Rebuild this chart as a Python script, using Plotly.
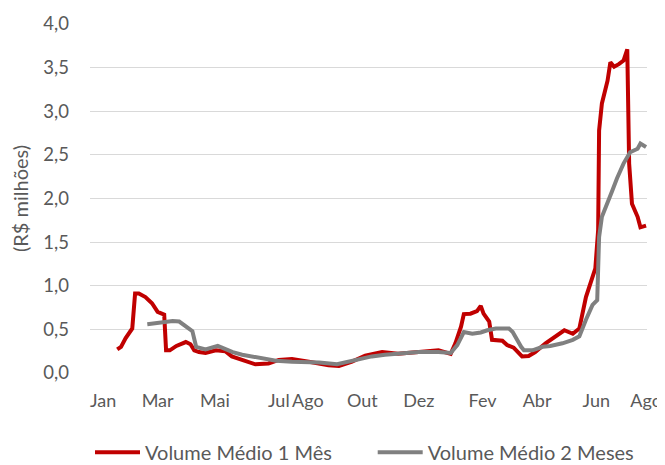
import plotly.graph_objects as go

# Volume Médio 1 Mês (R$ milhões)
red_dates = ["2019-01-16", "2019-01-20", "2019-01-25", "2019-02-01", "2019-02-04", "2019-02-08",
             "2019-02-15", "2019-02-22", "2019-02-28", "2019-03-07", "2019-03-09", "2019-03-13",
             "2019-03-20", "2019-03-30", "2019-04-04", "2019-04-08", "2019-04-13", "2019-04-20",
             "2019-05-01", "2019-05-11", "2019-05-18", "2019-05-29", "2019-06-12", "2019-06-26",
             "2019-07-07", "2019-07-21", "2019-07-28", "2019-08-08", "2019-08-29", "2019-09-09",
             "2019-09-23", "2019-10-07", "2019-10-25", "2019-11-11", "2019-12-03", "2019-12-17",
             "2019-12-24", "2020-01-06", "2020-01-11", "2020-01-17", "2020-01-20", "2020-01-27",
             "2020-02-03", "2020-02-07", "2020-02-10", "2020-02-16", "2020-02-19", "2020-03-01",
             "2020-03-06", "2020-03-13", "2020-03-22", "2020-03-29", "2020-04-05", "2020-04-16",
             "2020-04-27", "2020-05-06", "2020-05-15", "2020-05-22", "2020-05-29", "2020-06-05",
             "2020-06-08", "2020-06-11", "2020-06-12", "2020-06-15", "2020-06-21", "2020-06-24",
             "2020-06-28", "2020-07-03", "2020-07-08", "2020-07-12", "2020-07-14", "2020-07-17",
             "2020-07-23", "2020-07-26", "2020-08-01"]
red_vals = [0.27, 0.30, 0.40, 0.51, 0.91, 0.91,
            0.87, 0.80, 0.70, 0.67, 0.26, 0.26,
            0.31, 0.355, 0.33, 0.26, 0.24, 0.23,
            0.26, 0.25, 0.19, 0.15, 0.10, 0.11,
            0.15, 0.16, 0.15, 0.13, 0.09, 0.08,
            0.13, 0.20, 0.24, 0.22, 0.24, 0.26,
            0.26, 0.22, 0.34, 0.53, 0.675, 0.68,
            0.71, 0.77, 0.68, 0.59, 0.38, 0.37,
            0.32, 0.29, 0.19, 0.195, 0.24, 0.34,
            0.43, 0.49, 0.45, 0.51, 0.87, 1.10,
            1.20, 1.64, 2.78, 3.09, 3.35, 3.56,
            3.51, 3.54, 3.58, 3.71, 2.40, 1.94,
            1.79, 1.67, 1.69]

# Volume Médio 2 Meses (R$ milhões)
gray_dates = ["2019-02-17", "2019-02-27", "2019-03-02", "2019-03-08", "2019-03-16", "2019-03-23",
              "2019-03-30", "2019-04-06", "2019-04-10", "2019-04-20", "2019-05-03", "2019-05-12",
              "2019-05-19", "2019-05-29", "2019-06-16", "2019-07-04", "2019-07-21", "2019-08-19",
              "2019-09-07", "2019-09-23", "2019-10-14", "2019-10-28", "2019-11-15", "2019-12-03",
              "2019-12-24", "2020-01-06", "2020-01-13", "2020-01-20", "2020-01-29", "2020-02-07",
              "2020-02-14", "2020-02-23", "2020-03-08", "2020-03-12", "2020-03-21", "2020-03-24",
              "2020-04-02", "2020-04-13", "2020-04-21", "2020-05-04", "2020-05-15", "2020-05-22",
              "2020-05-29", "2020-06-05", "2020-06-10", "2020-06-12", "2020-06-15", "2020-06-21",
              "2020-06-26", "2020-07-01", "2020-07-08", "2020-07-15", "2020-07-23", "2020-07-26",
              "2020-08-01"]
gray_vals = [0.56, 0.575, 0.58, 0.59, 0.595, 0.59,
             0.53, 0.48, 0.30, 0.27, 0.31, 0.27,
             0.24, 0.21, 0.17, 0.14, 0.13, 0.12,
             0.10, 0.14, 0.19, 0.21, 0.22, 0.24,
             0.24, 0.23, 0.32, 0.47, 0.45, 0.465,
             0.49, 0.51, 0.51, 0.47, 0.30, 0.26,
             0.26, 0.30, 0.31, 0.34, 0.38, 0.42,
             0.61, 0.78, 0.835, 1.56, 1.79, 1.94,
             2.09, 2.23, 2.40, 2.53, 2.57, 2.63,
             2.59]

series_names = ["Volume Médio 1 Mês", "Volume Médio 2 Meses"]

tick_dates = ["2019-01-01", "2019-02-28", "2019-04-30", "2019-07-07", "2019-08-07", "2019-10-04",
              "2019-12-03", "2020-02-09", "2020-04-07", "2020-06-09", "2020-08-01"]
tick_labels = ["Jan", "Mar", "Mai", "Jul", "Ago", "Out", "Dez", "Fev", "Abr", "Jun", "Ago"]

y_ticks = [0, 0.5, 1.0, 1.5, 2.0, 2.5, 3.0, 3.5, 4.0]

FONT = "Lato"
TXT = "#595959"
GAP = "\u00a0" * 7  # spacing between legend entries

fig = go.Figure()
fig.add_trace(go.Scatter(x=red_dates, y=red_vals, mode="lines", name=series_names[0] + GAP,
                         line=dict(color="#C00000", width=4)))
fig.add_trace(go.Scatter(x=gray_dates, y=gray_vals, mode="lines", name=series_names[1],
                         line=dict(color="#808080", width=4)))

# page body has an 8px margin, so the figure is sized 8px smaller than the window
fig.update_layout(
    template="none",
    width=657, height=457,
    margin=dict(l=82, r=18, t=16, b=92, pad=0, autoexpand=False),
    paper_bgcolor="white", plot_bgcolor="white",
    separators=",.",
    font=dict(family=FONT, size=18, color=TXT),
    showlegend=True,
    legend=dict(orientation="h", x=0.0, xanchor="left", y=-0.227, yanchor="middle",
                font=dict(family=FONT, size=20, color=TXT), itemwidth=45,
                traceorder="normal", bgcolor="rgba(0,0,0,0)"),
    xaxis=dict(type="date", range=["2018-12-18", "2020-08-02"], automargin=False,
               tickmode="array", tickvals=tick_dates, ticktext=tick_labels,
               showgrid=False, zeroline=False, showline=False, ticks="",
               tickfont=dict(family=FONT, size=18, color=TXT), ticklabelstandoff=15),
    yaxis=dict(range=[0, 4.0], tickmode="array", tickvals=y_ticks, tickformat=".1f",
               automargin=False,
               showgrid=True, gridcolor="#D9D9D9", gridwidth=1.3,
               zeroline=False, showline=False, ticks="",
               tickfont=dict(family=FONT, size=18.5, color=TXT), ticklabelstandoff=20,
               title=dict(text="(R$ milhões)", font=dict(family=FONT, size=20, color=TXT), standoff=12)),
)

fig.write_html("out.html")
